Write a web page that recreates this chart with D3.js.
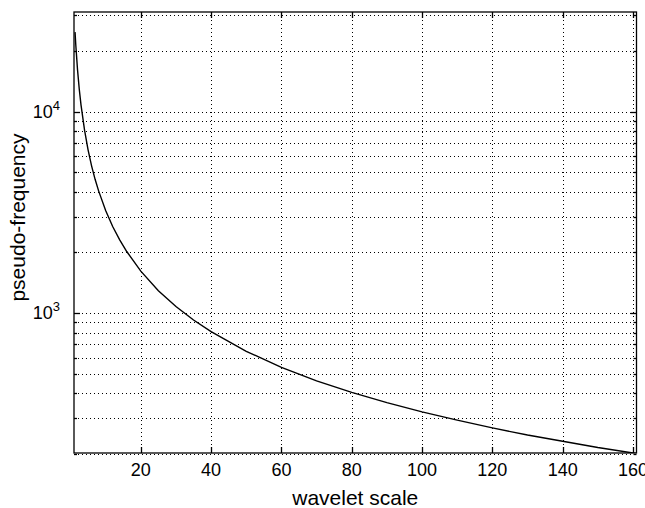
<!DOCTYPE html>
<html>
<head>
<meta charset="utf-8">
<script src="https://cdn.jsdelivr.net/npm/d3@7"></script>
<style>
  body { margin: 0; background: #fff; }
  svg { display: block; font-family: "Liberation Sans", Arial, sans-serif; }
</style>
</head>
<body>
<svg id="chart" width="645" height="508"></svg>
<script>
// wavelet scale vs. pseudo-frequency
const scales = [1.3, 1.5, 2, 2.5, 3, 4, 5, 6, 7, 8, 10, 12, 14, 16, 20, 25, 30, 35, 40, 50,
  60, 70, 80, 90, 100, 110, 120, 130, 140, 150, 160, 161];
const freqs = [24800, 21500, 16150, 12900, 10770, 8080, 6460, 5380, 4610, 4040, 3230, 2690,
  2310, 2020, 1615, 1290, 1077, 923, 808, 646, 538, 461, 404, 359, 323, 294, 269, 248, 231,
  215, 202, 201];
const xTicks = [20, 40, 60, 80, 100, 120, 140, 160];
const yMajor = [1000, 10000];
const yMinor = [200, 300, 400, 500, 600, 700, 800, 900,
  2000, 3000, 4000, 5000, 6000, 7000, 8000, 9000, 20000, 30000];
const yDomain = [202, 31200];
const xDomain = [1, 161];

const margin = { left: 74, right: 8.5, top: 12, bottom: 55 };
const W = 645, H = 508;
const svg = d3.select("#chart");

const x = d3.scaleLinear().domain(xDomain).range([margin.left, W - margin.right]);
const y = d3.scaleLog().domain(yDomain).range([H - margin.bottom, margin.top]);
const x0 = x.range()[0], x1 = x.range()[1], y0 = y.range()[0], y1 = y.range()[1];

svg.append("defs").append("clipPath").attr("id", "clip")
  .append("rect").attr("x", x0).attr("y", y1).attr("width", x1 - x0).attr("height", y0 - y1);

const grid = svg.append("g")
  .attr("stroke", "#000")
  .attr("stroke-width", 1)
  .attr("stroke-dasharray", "1,3")
  .attr("shape-rendering", "crispEdges");

grid.selectAll(".gx").data(xTicks).join("line")
  .attr("x1", d => Math.round(x(d)) + 0.5).attr("x2", d => Math.round(x(d)) + 0.5)
  .attr("y1", y1).attr("y2", y0);

grid.selectAll(".gy").data(yMajor.concat(yMinor)).join("line")
  .attr("y1", d => Math.round(y(d)) + 0.5).attr("y2", d => Math.round(y(d)) + 0.5)
  .attr("x1", x0).attr("x2", x1);

// curve
svg.append("path")
  .datum(d3.zip(scales, freqs))
  .attr("clip-path", "url(#clip)")
  .attr("fill", "none")
  .attr("stroke", "#000")
  .attr("stroke-width", 1.4)
  .attr("d", d3.line().x(d => x(d[0])).y(d => y(d[1])));

// box and inward ticks
const axes = svg.append("g").attr("stroke", "#000").attr("stroke-width", 1.3);
axes.append("rect")
  .attr("x", x0).attr("y", y1).attr("width", x1 - x0).attr("height", y0 - y1)
  .attr("fill", "none");

xTicks.forEach(t => {
  const px = Math.round(x(t)) + 0.5;
  axes.append("line").attr("x1", px).attr("x2", px).attr("y1", y0).attr("y2", y0 - 6);
  axes.append("line").attr("x1", px).attr("x2", px).attr("y1", y1).attr("y2", y1 + 6);
});
yMajor.concat(yMinor).forEach(t => {
  const py = Math.round(y(t)) + 0.5;
  const len = yMajor.includes(t) ? 6 : 3;
  axes.append("line").attr("y1", py).attr("y2", py).attr("x1", x0).attr("x2", x0 + len);
  axes.append("line").attr("y1", py).attr("y2", py).attr("x1", x1).attr("x2", x1 - len);
});

// tick labels
svg.append("g").selectAll("text").data(xTicks).join("text")
  .attr("x", d => x(d)).attr("y", y0 + 23)
  .attr("text-anchor", "middle")
  .attr("font-size", 18)
  .text(d => d);

const yl = svg.append("g").selectAll("text").data(yMajor).join("text")
  .attr("x", x0 - 14).attr("y", d => y(d) + 6)
  .attr("text-anchor", "end")
  .attr("font-size", 18);
yl.append("tspan").text("10");
yl.append("tspan").attr("dy", -8).attr("font-size", 13).text(d => Math.round(Math.log10(d)));

// axis titles
svg.append("text")
  .attr("x", (x0 + x1) / 2).attr("y", 505)
  .attr("text-anchor", "middle")
  .attr("font-size", 21)
  .text("wavelet scale");

svg.append("text")
  .attr("transform", `translate(25, ${(y0 + y1) / 2 - 15}) rotate(-90)`)
  .attr("text-anchor", "middle")
  .attr("font-size", 21)
  .text("pseudo-frequency");
</script>
</body>
</html>
